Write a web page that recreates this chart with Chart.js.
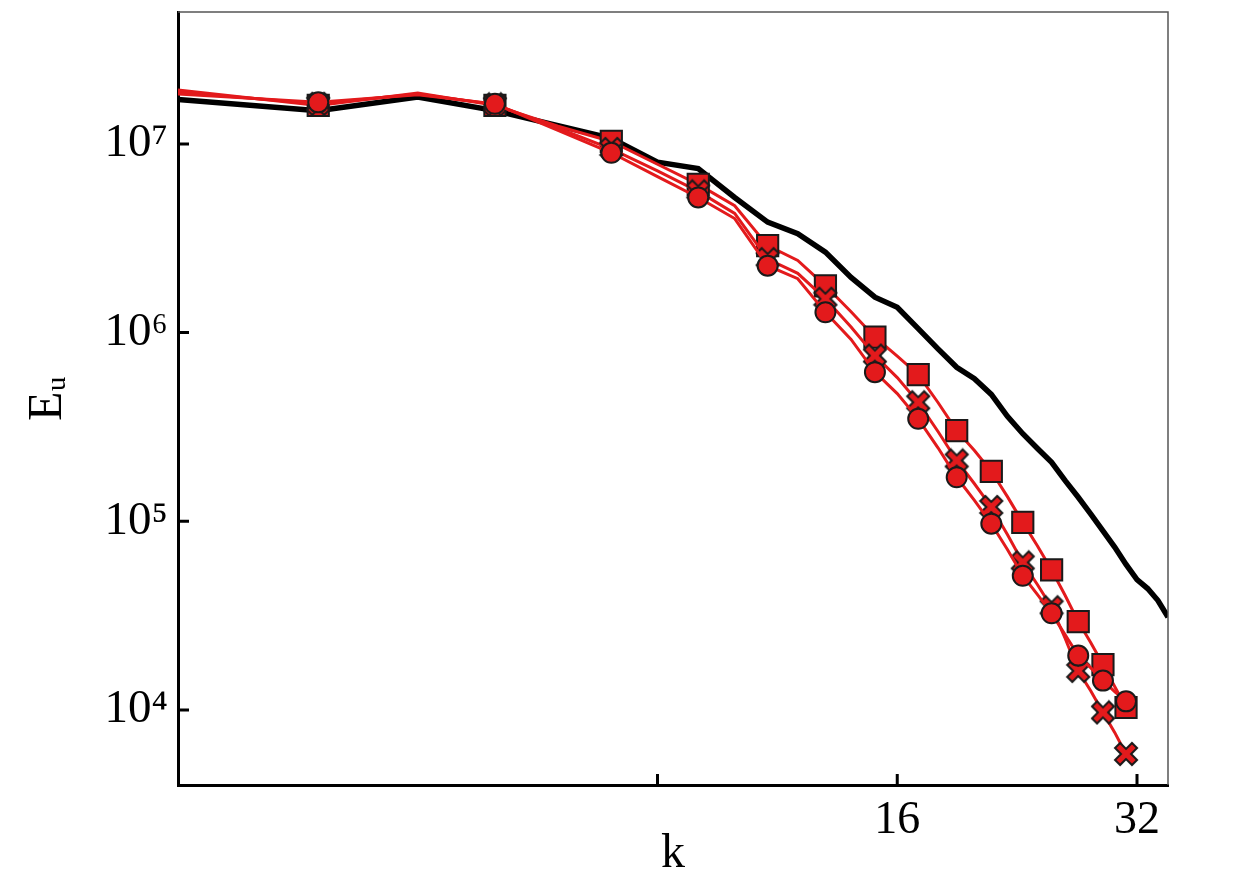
<!DOCTYPE html>
<html>
<head>
<meta charset="utf-8">
<script src="https://cdn.jsdelivr.net/npm/chart.js@4.4.1/dist/chart.umd.min.js"></script>
<style>
  html, body { margin: 0; padding: 0; background: #fff; }
  #wrap { width: 1240px; height: 886px; }
</style>
</head>
<body>
<div id="wrap"><canvas id="spectrum"></canvas></div>
<script>
// wavenumbers
const kBlack = [2, 3, 4, 5, 6, 7, 8, 9, 10, 11, 12, 13, 14, 15, 16, 17, 18,
                19, 20, 21, 22, 23, 24, 25, 26, 27, 28, 29, 30, 31, 32, 33, 34, 35];
const kRed = [2, 3, 4, 5, 6, 7, 8, 9, 10, 11, 12, 13, 14, 15, 16, 17,
              18, 19, 20, 21, 22, 23, 24, 25, 26, 27, 28, 29, 30, 31];

// energy spectra
const eBlack = [1.72e7, 1.50e7, 1.77e7, 1.50e7, 1.25e7, 1.07e7, 8.0e6, 7.4e6, 5.2e6, 3.85e6,
                3.34e6, 2.67e6, 1.96e6, 1.54e6, 1.36e6, 1.05e6, 8.2e5, 6.55e5, 5.7e5, 4.7e5,
                3.6e5, 2.91e5, 2.43e5, 2.05e5, 1.64e5, 1.34e5, 1.09e5, 8.9e4, 7.3e4, 5.9e4,
                4.9e4, 4.4e4, 3.8e4, 3.1e4];
const eSquare = [1.93e7, 1.60e7, 1.86e7, 1.60e7, 1.24e7, 1.03e7, 7.8e6, 6.1e6, 4.7e6, 2.89e6,
                 2.41e6, 1.77e6, 1.29e6, 9.45e5, 7.5e5, 5.98e5, 4.26e5, 3.02e5, 2.37e5, 1.84e5,
                 1.35e5, 9.86e4, 7.4e4, 5.52e4, 4.04e4, 2.94e4, 2.27e4, 1.74e4, 1.33e4, 1.03e4];
const eCross = [1.88e7, 1.63e7, 1.84e7, 1.62e7, 1.21e7, 9.4e6, 7.2e6, 5.6e6, 4.28e6, 2.45e6,
                2.06e6, 1.51e6, 1.07e6, 7.55e5, 5.77e5, 4.27e5, 2.99e5, 2.1e5, 1.58e5, 1.19e5,
                8.5e4, 6.05e4, 4.61e4, 3.5e4, 2.39e4, 1.61e4, 1.26e4, 9.7e3, 7.6e3, 5.84e3];
const eCircle = [1.84e7, 1.66e7, 1.82e7, 1.63e7, 1.18e7, 8.97e6, 6.7e6, 5.2e6, 4.02e6, 2.26e6,
                 1.93e6, 1.28e6, 9.2e5, 6.17e5, 4.75e5, 3.49e5, 2.45e5, 1.71e5, 1.29e5, 9.7e4,
                 7.08e4, 5.14e4, 4.08e4, 3.25e4, 2.5e4, 1.94e4, 1.67e4, 1.43e4, 1.25e4, 1.11e4];

// axis ticks
const xTickValues = [8, 16, 32];
const xTickLabels = ['', '16', '32'];
const yTickValues = [1e4, 1e5, 1e6, 1e7];
const yTickLabels = ['10\u2074', '10\u2075', '10\u2076', '10\u2077'];

const RED = '#e31a1c';
const EDGE = '#1a1a1a';
const SERIF = '"Liberation Serif", "DejaVu Serif", serif';

function pairs(ks, vals) {
    return ks.map((k, i) => ({ x: k, y: vals[i] }));
}

// markers only on odd k
function markerRadius(r) {
    return ctx => (kRed[ctx.dataIndex] % 2 === 1 ? r : 0);
}

// filled X marker with dark outline
function makeCross(size) {
    const c = document.createElement('canvas');
    c.width = size;
    c.height = size;
    const g = c.getContext('2d');
    const h = size / 2, a = 0.3, s = (h - 2) * Math.SQRT2 / (1 + a);
    const pts = [[a, a], [a, 1], [-a, 1], [-a, a], [-1, a], [-1, -a],
                 [-a, -a], [-a, -1], [a, -1], [a, -a], [1, -a], [1, a]];
    g.translate(h, h);
    g.rotate(Math.PI / 4);
    g.beginPath();
    pts.forEach(([px, py], i) => i ? g.lineTo(px * s, py * s) : g.moveTo(px * s, py * s));
    g.closePath();
    g.fillStyle = RED;
    g.fill();
    g.lineWidth = 2;
    g.strokeStyle = EDGE;
    g.stroke();
    return c;
}

// thin frame on top/right and inward tick marks
const frame = {
    id: 'frame',
    afterDraw(chart) {
        const { ctx, chartArea: a, scales } = chart;
        ctx.save();
        ctx.strokeStyle = '#555';
        ctx.lineWidth = 1.5;
        ctx.beginPath();
        ctx.moveTo(a.left, a.top);
        ctx.lineTo(a.right, a.top);
        ctx.lineTo(a.right, a.bottom);
        ctx.stroke();

        ctx.strokeStyle = '#000';
        ctx.lineWidth = 3;
        ctx.beginPath();
        scales.x.ticks.forEach(t => {
            const px = scales.x.getPixelForValue(t.value);
            ctx.moveTo(px, a.bottom);
            ctx.lineTo(px, a.bottom - 11);
        });
        scales.y.ticks.forEach(t => {
            const py = scales.y.getPixelForValue(t.value);
            ctx.moveTo(a.left, py);
            ctx.lineTo(a.left + 11, py);
        });
        ctx.stroke();
        ctx.restore();
    }
};

const ctx = document.getElementById('spectrum').getContext('2d');
new Chart(ctx, {
    type: 'line',
    data: {
        datasets: [{
            label: 'circle',
            data: pairs(kRed, eCircle),
            borderColor: RED,
            borderWidth: 3,
            pointStyle: 'circle',
            pointRadius: markerRadius(10),
            pointBackgroundColor: RED,
            pointBorderColor: EDGE,
            pointBorderWidth: 2
        }, {
            label: 'cross',
            data: pairs(kRed, eCross),
            borderColor: RED,
            borderWidth: 3,
            pointStyle: makeCross(26),
            pointRadius: markerRadius(11)
        }, {
            label: 'square',
            data: pairs(kRed, eSquare),
            borderColor: RED,
            borderWidth: 3,
            pointStyle: 'rect',
            pointRadius: markerRadius(15),
            pointBackgroundColor: RED,
            pointBorderColor: EDGE,
            pointBorderWidth: 2
        }, {
            label: 'reference',
            data: pairs(kBlack, eBlack),
            borderColor: '#000',
            borderWidth: 5.5,
            pointRadius: 0
        }]
    },
    options: {
        responsive: true,
        maintainAspectRatio: false,
        animation: false,
        layout: { autoPadding: false, padding: { top: 12, right: 72, left: 0, bottom: 0 } },
        plugins: {
            legend: { display: false },
            tooltip: { enabled: false }
        },
        elements: { line: { tension: 0 } },
        scales: {
            x: {
                type: 'logarithmic',
                min: 2,
                max: 35,
                afterBuildTicks: scale => { scale.ticks = xTickValues.map(v => ({ value: v })); },
                afterFit: scale => {
                    scale.height = 101;
                    scale.paddingLeft = 0;
                    scale.paddingRight = 0;
                },
                grid: { display: false, drawTicks: false },
                border: { display: true, color: '#000', width: 3 },
                ticks: {
                    autoSkip: false,
                    maxRotation: 0,
                    minRotation: 0,
                    padding: 8,
                    color: '#000',
                    font: { family: SERIF, size: 46 },
                    callback: (v, i) => xTickLabels[i]
                },
                title: {
                    display: true,
                    text: 'k',
                    color: '#000',
                    font: { family: SERIF, size: 48 },
                    padding: { top: 0, bottom: 3 }
                }
            },
            y: {
                type: 'logarithmic',
                min: 4e3,
                max: 5e7,
                afterBuildTicks: scale => { scale.ticks = yTickValues.map(v => ({ value: v })); },
                afterFit: scale => {
                    scale.width = 178;
                    scale.paddingTop = 0;
                    scale.paddingBottom = 0;
                },
                grid: { display: false, drawTicks: false },
                border: { display: true, color: '#000', width: 3 },
                ticks: {
                    autoSkip: false,
                    padding: 10,
                    color: '#000',
                    font: { family: SERIF, size: 47 },
                    callback: (v, i) => yTickLabels[i]
                },
                title: {
                    display: true,
                    text: 'E\u1d64',
                    color: '#000',
                    font: { family: SERIF, size: 48 },
                    padding: { top: 20, bottom: 0 }
                }
            }
        }
    },
    plugins: [frame]
});
</script>
</body>
</html>
